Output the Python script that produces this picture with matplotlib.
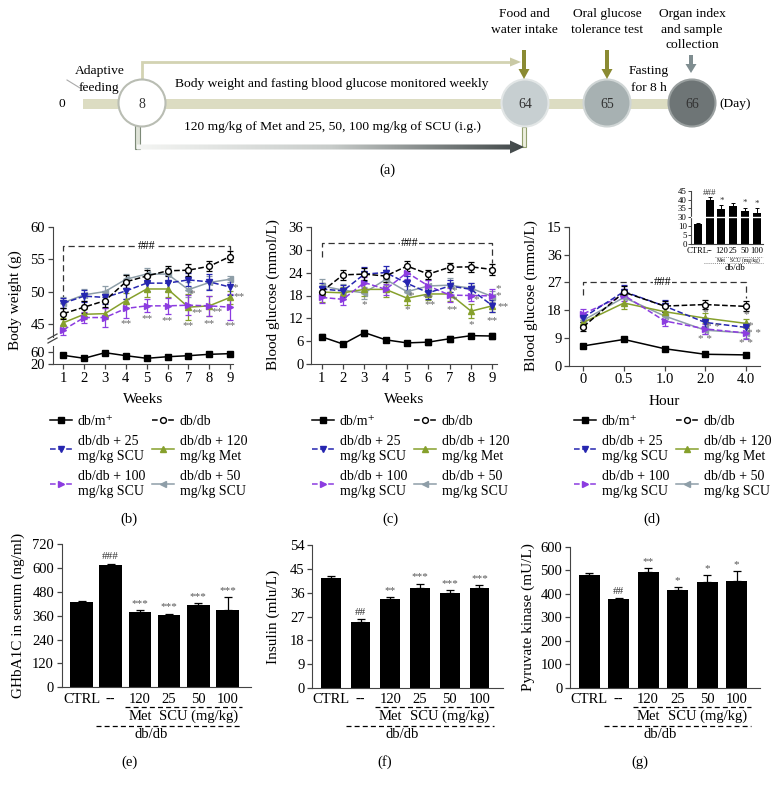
import numpy as np
import matplotlib
matplotlib.use("Agg")
import matplotlib.pyplot as plt
import matplotlib.transforms as mtransforms
from matplotlib.patches import Circle, Polygon, FancyArrow, Rectangle
from matplotlib.lines import Line2D

plt.rcParams['font.family'] = ['Liberation Serif', 'DejaVu Serif']
plt.rcParams['font.size'] = 10.5
plt.rcParams['axes.edgecolor'] = '#444444'
plt.rcParams['xtick.color'] = '#444444'
plt.rcParams['ytick.color'] = '#444444'
plt.rcParams['xtick.labelcolor'] = 'black'
plt.rcParams['ytick.labelcolor'] = 'black'

#---------- DATA ----------
weeks = [1, 2, 3, 4, 5, 6, 7, 8, 9]
hours = ["0", "0.5", "1.0", "2.0", "4.0"]
group_labels = ["db/m\u207a", "db/db", "db/db + 25\nmg/kg SCU", "db/db + 120\nmg/kg Met",
                "db/db + 100\nmg/kg SCU", "db/db + 50\nmg/kg SCU"]

# body weight (g); db/m+ drawn on the lower (broken) axis
bw_dbm = [50, 40, 58.7, 48.7, 40, 45.3, 48.7, 53.3, 55.5]
bw_dbdb = [46.6, 47.6, 48.6, 51.5, 52.4, 53.2, 53.3, 53.9, 55.4]
bw_scu25 = [48.2, 49.3, 49.1, 50.1, 51.3, 51.3, 51.8, 51.5, 50.7]
bw_met = [45.2, 46.5, 46.6, 48.6, 50.4, 50.4, 47.6, 47.8, 49.1]
bw_scu100 = [44.1, 46.0, 46.0, 47.4, 47.8, 47.8, 47.9, 47.8, 47.6]
bw_scu50 = [48.3, 49.5, 50.0, 51.9, 52.7, 52.7, 50.3, 51.4, 51.9]
bw_dbm_err = [2, 2, 2, 2, 2, 2, 2, 2, 2]
bw_dbdb_err = [0.8, 0.9, 1.0, 1.0, 1.0, 0.8, 0.9, 0.8, 0.8]
bw_scu25_err = [0.8, 0.9, 1.0, 1.2, 1.2, 1.2, 1.0, 1.2, 1.2]
bw_met_err = [0.8, 0.8, 0.9, 1.2, 1.2, 1.2, 2.0, 1.5, 1.0]
bw_scu100_err = [0.8, 0.8, 1.5, 1.5, 1.0, 1.2, 1.5, 1.5, 2.0]
bw_scu50_err = [0.8, 0.9, 0.8, 0.8, 1.0, 1.0, 1.2, 1.0, 0.5]

# fasting blood glucose (mmol/L)
bg_dbm = [7.2, 5.3, 8.3, 6.4, 5.6, 5.8, 6.7, 7.5, 7.4]
bg_dbdb = [19.0, 23.4, 23.6, 23.1, 25.7, 23.6, 25.4, 25.5, 24.8]
bg_scu25 = [19.7, 19.2, 23.6, 24.0, 21.2, 18.7, 20.5, 19.6, 15.3]
bg_met = [18.9, 18.7, 19.6, 19.6, 17.3, 18.4, 18.4, 13.9, 15.3]
bg_scu100 = [17.5, 17.0, 21.4, 19.6, 24.0, 20.5, 18.1, 18.0, 17.9]
bg_scu50 = [20.5, 19.4, 18.7, 22.2, 19.0, 20.5, 20.7, 19.9, 17.7]
bg_dbm_err = [0.6, 0.5, 0.8, 0.6, 0.6, 0.7, 0.8, 0.6, 0.9]
bg_dbdb_err = [1.2, 1.3, 1.5, 1.5, 1.3, 1.2, 1.2, 1.3, 1.4]
bg_scu25_err = [1.5, 1.5, 1.8, 1.8, 1.8, 1.5, 1.5, 1.6, 1.5]
bg_met_err = [2.5, 1.5, 1.8, 2.0, 1.8, 1.5, 1.8, 1.8, 1.5]
bg_scu100_err = [1.5, 1.5, 1.5, 1.5, 1.8, 1.5, 1.8, 1.5, 1.8]
bg_scu50_err = [1.8, 1.5, 1.5, 1.5, 1.5, 1.5, 1.8, 1.5, 1.5]

# oral glucose tolerance test (mmol/L)
og_dbm = [6.4, 8.5, 5.5, 3.7, 3.5]
og_dbdb = [12.6, 23.8, 19.3, 19.8, 19.2]
og_scu25 = [15.6, 24.0, 19.3, 14.0, 12.4]
og_met = [14.0, 20.3, 17.5, 15.4, 13.7]
og_scu100 = [16.8, 22.8, 14.5, 11.9, 10.6]
og_scu50 = [14.7, 22.1, 16.1, 11.5, 10.6]
og_dbm_err = [0.6, 0.5, 0.5, 0.3, 0.3]
og_dbdb_err = [1.5, 2.0, 1.8, 1.6, 1.6]
og_scu25_err = [1.5, 2.0, 2.0, 1.5, 1.5]
og_met_err = [1.8, 1.8, 1.5, 1.5, 1.5]
og_scu100_err = [1.5, 2.0, 1.5, 1.5, 1.8]
og_scu50_err = [1.5, 2.0, 1.5, 1.2, 1.5]

# inset: OGTT AUC, broken axis 10 -> 30
auc_ticks = [0, 5, 10, 30, 35, 40, 45]
auc = [11.2, 39.7, 34.5, 36.4, 33.7, 32.2]
auc_err = [0.5, 1.5, 2.5, 1.5, 1.8, 3.0]
auc_sig = ["", "###", "*", "", "*", "*"]

# bar charts
bar_cats = ["CTRL", "--", "120", "25", "50", "100"]
ghb = [428, 612, 378, 362, 412, 387]
ghb_err = [8, 10, 8, 8, 10, 65]
ghb_sig = ["", "###", "***", "***", "***", "***"]
ins = [41.7, 24.8, 33.6, 37.7, 36.1, 37.9]
ins_err = [0.5, 1.2, 0.8, 1.8, 1.0, 1.0]
ins_sig = ["", "##", "**", "***", "***", "***"]
pk = [479, 375, 493, 415, 449, 455]
pk_err = [8, 5, 15, 12, 28, 42]
pk_sig = ["", "##", "**", "*", "*", "*"]

# significance marks on line charts (x, y, text)
bw_stars = [(4.0, 45.0, "**"), (5.0, 45.9, "**"), (6.0, 45.5, "**"), (7.2, 49.7, "*"),
            (7.4, 46.7, "**"), (7.0, 44.7, "**"), (8.4, 46.9, "**"), (8.0, 45.0, "**"),
            (9.25, 50.6, "*"), (9.45, 49.2, "**"), (9.0, 44.7, "**")]
bg_stars = [(3.0, 15.5, "*"), (5.2, 18.1, "*"), (5.0, 14.2, "*"), (6.0, 17.5, "**"),
            (6.1, 15.5, "**"), (7.2, 19.4, "*"), (7.2, 16.8, "*"), (7.1, 14.2, "**"),
            (8.25, 17.0, "*"), (8.0, 10.3, "*"), (9.25, 19.8, "*"), (9.25, 17.9, "*"),
            (9.5, 15.2, "**"), (9.0, 11.3, "**")]
og_stars = [(3.0, 17.2, "*"), (3.2, 12.4, "* *"), (3.0, 8.4, "* *"), (4.0, 16.4, "*"),
            (4.1, 12.9, "*"), (4.2, 10.3, "* *"), (4.0, 7.3, "* *")]

#---------- STYLES ----------
BLUE, OLIVE, PURPLE, GREY = '#2626b0', '#86a02c', '#8c3ce0', '#8e9ea8'
styles = [
    dict(color='black', ls='-', marker='s', mfc='black'),
    dict(color='black', ls='--', marker='o', mfc='white'),
    dict(color=BLUE, ls='--', marker='v', mfc=BLUE),
    dict(color=OLIVE, ls='-', marker='^', mfc=OLIVE),
    dict(color=PURPLE, ls='--', marker='>', mfc=PURPLE),
    dict(color=GREY, ls='-', marker='<', mfc=GREY),
]
draw_order = [5, 3, 4, 2, 1]

W, H = 774, 788
fig = plt.figure(figsize=(W / 100, H / 100), dpi=100)


def box(l, t, r, b):
    return [l / W, 1 - b / H, (r - l) / W, (b - t) / H]


def fy(ypx):
    return 1 - ypx / H


def style_axes(ax):
    for s in ['top', 'right']:
        ax.spines[s].set_visible(False)
    ax.tick_params(direction='out', length=3.5, width=0.9, labelsize=10.5, pad=2)


def draw_series(ax, x, y, e, st, z=3):
    ax.errorbar(x, y, yerr=e, color=st['color'], ls=st['ls'], marker=st['marker'],
                mfc=st['mfc'], mec=st['color'], ms=4.2, lw=1.1, elinewidth=0.9,
                capsize=2.5, capthick=0.9, zorder=z, clip_on=False)


def bracket(ax, x0, x1, y, yl, yr, xt):
    ax.plot([x0, x0, x1, x1], [yl, y, y, yr], color='#333333', ls=(0, (5, 3)), lw=0.9,
            clip_on=False, zorder=2)
    ax.text(xt, y, "###", ha='center', va='center', fontsize=8.5,
            bbox=dict(fc='white', ec='none', pad=0.5), zorder=2.5)


def stars(ax, lst):
    for x, y, t in lst:
        ax.text(x, y, t, ha='center', va='center', fontsize=8, color='#666666', zorder=6)


#---------- (b) body weight, broken axis ----------
ax_bu = fig.add_axes(box(52.7, 226.7, 233, 337))
ax_bl = fig.add_axes(box(52.7, 346, 233, 364.3))
for ax in (ax_bu, ax_bl):
    style_axes(ax)
    ax.set_xlim(0.49, 9.14)
    ax.patch.set_alpha(0)
ax_bu.spines['bottom'].set_visible(False)
ax_bu.set_xticks([])
ax_bu.set_ylim(43, 60)
ax_bu.set_yticks([45, 50, 55, 60])
ax_bl.set_ylim(20, 81)
ax_bl.set_yticks([20, 60])
ax_bl.set_xticks(weeks)
ax_bl.set_xlabel("Weeks", fontsize=11, labelpad=6)
bw_vals = [bw_dbm, bw_dbdb, bw_scu25, bw_met, bw_scu100, bw_scu50]
bw_errs = [bw_dbm_err, bw_dbdb_err, bw_scu25_err, bw_met_err, bw_scu100_err, bw_scu50_err]
draw_series(ax_bl, weeks, bw_dbm, bw_dbm_err, styles[0])
for i in draw_order:
    draw_series(ax_bu, weeks, bw_vals[i], bw_errs[i], styles[i])
bracket(ax_bu, 1, 9, 57.1, 47.0, 56.2, 5.0)
stars(ax_bu, bw_stars)
fig.text(15 / W, fy(300), "Body weight (g)", rotation=90, ha='center', va='center', fontsize=11)

#---------- (c) blood glucose ----------
ax_c = fig.add_axes(box(311, 226.7, 496.7, 364.3))
style_axes(ax_c)
ax_c.set_xlim(0.5, 9.2)
ax_c.set_ylim(0, 36)
ax_c.set_yticks([0, 6, 12, 18, 24, 30, 36])
ax_c.set_xticks(weeks)
ax_c.set_xlabel("Weeks", fontsize=11, labelpad=6)
bg_vals = [bg_dbm, bg_dbdb, bg_scu25, bg_met, bg_scu100, bg_scu50]
bg_errs = [bg_dbm_err, bg_dbdb_err, bg_scu25_err, bg_met_err, bg_scu100_err, bg_scu50_err]
draw_series(ax_c, weeks, bg_dbm, bg_dbm_err, styles[0])
for i in draw_order:
    draw_series(ax_c, weeks, bg_vals[i], bg_errs[i], styles[i])
bracket(ax_c, 1, 9, 31.8, 28.0, 26.4, 5.1)
stars(ax_c, bg_stars)
fig.text(273 / W, fy(295), "Blood glucose (mmol/L)", rotation=90, ha='center', va='center', fontsize=11)

#---------- (d) OGTT ----------
ax_d = fig.add_axes(box(569.3, 226.7, 760, 365.7))
style_axes(ax_d)
hx = np.arange(len(hours))
ax_d.set_xlim(-0.345, 4.35)
ax_d.set_ylim(0, 45)
ax_d.set_yticks([0, 9, 18, 27, 36, 45])
ax_d.set_yticklabels(["0", "9", "18", "27", "36", "15"])
ax_d.set_xticks(hx)
ax_d.set_xticklabels(hours)
ax_d.set_xlabel("Hour", fontsize=11, labelpad=6)
og_vals = [og_dbm, og_dbdb, og_scu25, og_met, og_scu100, og_scu50]
og_errs = [og_dbm_err, og_dbdb_err, og_scu25_err, og_met_err, og_scu100_err, og_scu50_err]
draw_series(ax_d, hx, og_dbm, og_dbm_err, styles[0])
for i in draw_order:
    draw_series(ax_d, hx, og_vals[i], og_errs[i], styles[i])
bracket(ax_d, 0, 4, 27.2, 23.0, 22.0, 1.95)
stars(ax_d, og_stars)
fig.text(531.7 / W, fy(296), "Blood glucose (mmol/L)", rotation=90, ha='center', va='center', fontsize=11)

# inset AUC
def brk(v):
    return v / 5 if v < 20 else 3 + (v - 30) / 5

ax_in = fig.add_axes(box(691, 190.7, 763, 244))
for s in ['top', 'right']:
    ax_in.spines[s].set_visible(False)
ax_in.tick_params(direction='out', length=2, width=0.7, labelsize=6.3, pad=1)
ax_in.set_ylim(0, 6)
ax_in.set_xlim(-0.57, 5.53)
ax_in.set_yticks([brk(t) for t in auc_ticks])
ax_in.set_yticklabels([str(t) for t in auc_ticks])
ax_in.set_xticks(np.arange(6))
ax_in.set_xticklabels(["CTRL", "--", "120", "25", "50", "100"])
ax_in.tick_params(axis='x', length=0, labelsize=6.2, pad=2)
auc_disp = [brk(v) for v in auc]
ax_in.bar(np.arange(6), auc_disp, width=0.68, color='black', zorder=2)
ax_in.errorbar(np.arange(6), auc_disp, yerr=[[0] * 6, [e / 5 for e in auc_err]], fmt='none',
               ecolor='black', elinewidth=0.7, capsize=1.5, capthick=0.7, zorder=2)
ax_in.axhline(3.0, color='white', lw=1.0, zorder=3)
for i, s in enumerate(auc_sig):
    if s:
        ax_in.text(i, auc_disp[i] + auc_err[i] / 5 + 0.05, s, ha='center', va='bottom',
                   fontsize=6.5, color='#333333')
tin = mtransforms.blended_transform_factory(ax_in.transData, fig.transFigure)
ax_in.plot([1.5, 5.5], [fy(257), fy(257)], color='#666666', ls=(0, (1, 1.5)), lw=0.6,
           transform=tin, clip_on=False)
ax_in.plot([0.5, 5.5], [fy(263), fy(263)], color='#666666', ls=(0, (1, 1.5)), lw=0.6,
           transform=tin, clip_on=False)
ax_in.text(2, fy(260), "Met", transform=tin, ha='center', va='center', fontsize=4)
ax_in.text(4, fy(260), "SCU (mg/kg)", transform=tin, ha='center', va='center', fontsize=4)
ax_in.text(3.2, fy(268), "db/db", transform=tin, ha='center', va='center', fontsize=6.5)

#---------- legends ----------
handles = [Line2D([], [], color=st['color'], ls=st['ls'], marker=st['marker'], mfc=st['mfc'],
                  mec=st['color'], ms=4.2, lw=1.1) for st in styles]
order = [0, 2, 4, 1, 3, 5]
for x0 in (50, 312, 574):
    fig.legend([handles[i] for i in order], [group_labels[i] for i in order],
               loc='upper left', bbox_to_anchor=(x0 / W, fy(415)), ncol=2, frameon=False,
               fontsize=10, handlelength=1.6, handletextpad=0.4, columnspacing=0.5,
               labelspacing=0.5, borderpad=0, borderaxespad=0)

#---------- (e)(f)(g) bar charts ----------
def bar_panel(rect, vals, errs, sig, ylim, yticks, ylabel, ylab_x, width, sig_size):
    ax = fig.add_axes(box(*rect))
    style_axes(ax)
    x = np.arange(len(bar_cats))
    ax.bar(x, vals, width=width, color='black', zorder=2)
    ax.errorbar(x, vals, yerr=[[0] * len(errs), errs], fmt='none', ecolor='black',
                elinewidth=0.9, capsize=3, capthick=0.9, zorder=2)
    ax.set_ylim(*ylim)
    ax.set_yticks(yticks)
    ax.set_xticks(x)
    ax.set_xticklabels(bar_cats)
    ax.tick_params(axis='x', length=0, pad=4)
    for i, s in enumerate(sig):
        if s:
            ax.text(i, vals[i] + errs[i] + (ylim[1] - ylim[0]) * 0.015, s, ha='center',
                    va='bottom', fontsize=sig_size, color='#555555' if s.startswith('*') else '#333333')
    t = mtransforms.blended_transform_factory(ax.transData, fig.transFigure)
    ax.plot([1.5, 5.5], [fy(706.7), fy(706.7)], color='black', ls=(0, (4, 2.5)), lw=0.9,
            transform=t, clip_on=False)
    ax.plot([0.5, 5.5], [fy(726), fy(726)], color='black', ls=(0, (4, 2.5)), lw=0.9,
            transform=t, clip_on=False)
    ax.text(2, fy(716.5), "Met", transform=t, ha='center', va='center', fontsize=10.5)
    ax.text(4, fy(716.5), "SCU (mg/kg)", transform=t, ha='center', va='center', fontsize=10.5)
    ax.text(2.4, fy(735), "db/db", transform=t, ha='center', va='center', fontsize=10.5)
    fig.text(ylab_x / W, fy((rect[1] + rect[3]) / 2), ylabel, rotation=90, ha='center',
             va='center', fontsize=11)
    return ax

bar_panel((61.7, 544, 250.7, 687.3), ghb, ghb_err, ghb_sig, (0, 720),
          [0, 120, 240, 360, 480, 600, 720], "GHbA1C in serum (ng/ml)", 18, 0.77, 8)
bar_panel((312.3, 545.3, 503, 687.7), ins, ins_err, ins_sig, (0, 54),
          [0, 9, 18, 27, 36, 45, 54], "Insulin (mlu/L)", 273, 0.66, 8)
bar_panel((570, 546.5, 760, 687.7), pk, pk_err, pk_sig, (0, 600),
          [0, 100, 200, 300, 400, 500, 600], "Pyruvate kinase (mU/L)", 528, 0.71, 8)

#---------- overlay: timeline (a), panel letters, axis break ----------
ov = fig.add_axes([0, 0, 1, 1], zorder=10)
ov.set_xlim(0, W)
ov.set_ylim(H, 0)
ov.axis('off')
ov.patch.set_alpha(0)

ov.add_patch(Rectangle((83, 98.5), 590, 10, fc='#dcdcc2', ec='none', zorder=1))
# upper khaki arrow
ov.plot([142, 142, 512], [80, 62, 62], color='#d3d3b2', lw=2.0, solid_joinstyle='miter', zorder=1)
ov.add_patch(Polygon([(510, 57.5), (521, 62), (510, 66.5)], fc='#c9c9a4', ec='none', zorder=1))
# lower gradient arrow
ov.add_patch(Rectangle((135, 124), 5, 25, fc='#dfe3d8', ec='#7d8a78', lw=0.8, zorder=1))
ov.add_patch(Rectangle((522, 127), 4, 20, fc='#eef0e0', ec='#93a070', lw=0.8, zorder=1))
arrow_poly = Polygon([(137, 144.5), (510, 144.5), (510, 140.5), (524, 147), (510, 153.5),
                      (510, 149.5), (137, 149.5)], closed=True, fc='none', ec='none')
ov.add_patch(arrow_poly)
grad = np.linspace(0, 1, 256).reshape(1, -1)
im = ov.imshow(grad, cmap=matplotlib.colors.LinearSegmentedColormap.from_list(
    'g', ['#f4f5f3', '#c8ccca', '#3f4647']), extent=(137, 524, 154, 140), aspect='auto', zorder=1.5)
im.set_clip_path(arrow_poly)
ov.set_xlim(0, W)
ov.set_ylim(H, 0)

for cx, fc, ec, lab in [(142, 'white', '#b9bdb3', "8"), (525, '#c7cfd1', '#e2e6e6', "64"),
                        (607, '#a7b1b2', '#cfd5d5', "65"), (692, '#6e7576', '#9aa0a0', "66")]:
    ov.add_patch(Circle((cx, 103), 23.5, fc=fc, ec=ec, lw=1.5, zorder=3))
    ov.text(cx, 104, lab, ha='center', va='center', fontsize=10, color='#333333', zorder=4)

ov.add_patch(FancyArrow(524, 50, 0, 29, width=4, head_width=11, head_length=10,
                        length_includes_head=True, fc='#8a8a32', ec='none', zorder=4))
ov.add_patch(FancyArrow(607, 50, 0, 29, width=4, head_width=11, head_length=10,
                        length_includes_head=True, fc='#8a8a32', ec='none', zorder=4))
ov.add_patch(FancyArrow(691, 55, 0, 18, width=4, head_width=11, head_length=9,
                        length_includes_head=True, fc='#7f8d90', ec='none', zorder=4))
ov.plot([67, 80], [80, 88], color='#aaaaaa', lw=0.8)

tl = dict(ha='center', va='center', fontsize=9.7)
ov.text(62, 104, "0", **tl)
ov.text(100, 71, "Adaptive", **tl)
ov.text(99, 88, "feeding", **tl)
ov.text(332, 84, "Body weight and fasting blood glucose monitored weekly", **tl)
ov.text(332, 127, "120 mg/kg of Met and 25, 50, 100 mg/kg of SCU (i.g.)", **tl)
ov.text(524, 14, "Food and", **tl)
ov.text(524, 30, "water intake", **tl)
ov.text(607, 14, "Oral glucose", **tl)
ov.text(607, 30, "tolerance test", **tl)
ov.text(649, 71, "Fasting", **tl)
ov.text(649, 88, "for 8 h", **tl)
ov.text(692, 14, "Organ index", **tl)
ov.text(692, 30, "and sample", **tl)
ov.text(692, 45, "collection", **tl)
ov.text(735, 104, "(Day)", **tl)

for lx, ly, lab in [(387, 170, "(a)"), (129, 519, "(b)"), (390, 519, "(c)"), (652, 519, "(d)"),
                    (130, 762, "(e)"), (385, 762, "(f)"), (640, 762, "(g)")]:
    ov.text(lx, ly, lab, ha='center', va='center', fontsize=10.5)

# axis break marks on (b)
ov.plot([48, 57], [339, 334], color='#444444', lw=0.9)
ov.plot([48, 57], [343, 338], color='#444444', lw=0.9)
ov.add_patch(Rectangle((50, 337.5), 6, 2.5, fc='white', ec='none', zorder=0.5))

fig.savefig("out.png", dpi=100)
